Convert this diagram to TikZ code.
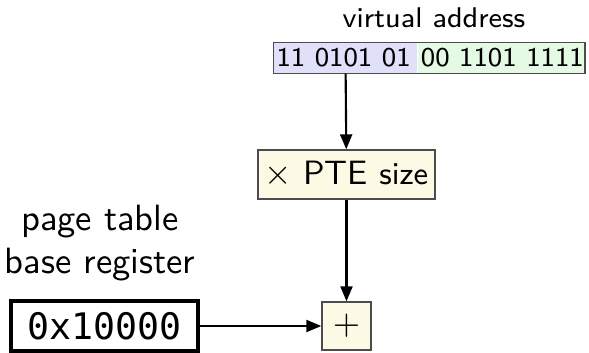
\documentclass[tikz,border=0pt]{standalone}
\usepackage{fontspec}
\setmonofont{DejaVu Sans Mono}
\renewcommand{\familydefault}{\sfdefault}
\usetikzlibrary{positioning,arrows.meta}

\definecolor{hibits}{RGB}{224,224,250}
\definecolor{lobits}{RGB}{228,250,228}
\definecolor{opfill}{RGB}{252,249,228}

\newcommand{\bitfield}[2]{\makebox[#1][l]{#2}}

\tikzset{
  bits/.style={inner xsep=0.025cm, inner ysep=0pt, minimum height=0.30cm, font=\fontsize{7.7}{9}\selectfont},
  op/.style={draw=black!70, line width=0.4pt, fill=opfill, inner sep=0pt},
  flow/.style={-{Triangle[length=0.15cm,width=0.12cm]}, line width=0.6pt},
}

\begin{document}
\begin{tikzpicture}
    \useasboundingbox (0,0) rectangle (5.89,3.52);

    % virtual address, split in two parts
    \node[font=\fontsize{8.1}{9}\selectfont] (valabel) at (4.34,3.34) {virtual address};
    \node[bits, fill=hibits] (vpn) at (3.455,2.94) {\bitfield{1.38cm}{11 0101 01}};
    \node[bits, fill=lobits, anchor=west] (offset) at (vpn.east) {\bitfield{1.61cm}{00 1101 1111}};
    \draw[black!70, line width=0.4pt] (vpn.north west) rectangle (offset.south east);

    % multiply and add
    \node[op, minimum width=1.77cm, minimum height=0.49cm, font=\fontsize{9.6}{11}\selectfont] (pte) at (3.465,1.775) {$\times$ PTE {\small size}};
    \node[op, minimum width=0.49cm, minimum height=0.48cm] (plus) at (3.465,0.26) {$+$};

    % base register
    \node[align=center, font=\fontsize{10.4}{12.4}\selectfont] (ptbrlabel) at (1.0,1.09) {page table\\base register};
    \node[draw, line width=1.1pt, minimum width=1.87cm, minimum height=0.50cm, inner sep=0pt, font=\ttfamily\fontsize{10.4}{12}\selectfont] (ptbr) at (1.045,0.26) {0x10000};

    \draw[flow] (vpn) -- (pte);
    \draw[flow] (pte) -- (plus);
    \draw[flow] (ptbr) -- (plus);
\end{tikzpicture}
\end{document}
